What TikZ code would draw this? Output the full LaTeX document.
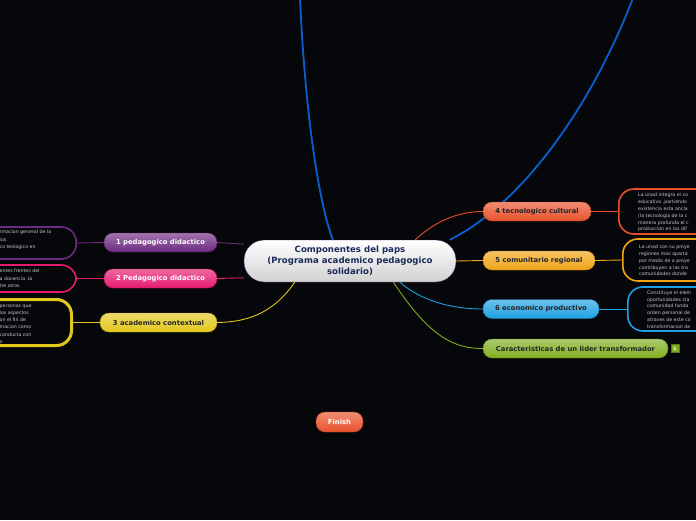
\documentclass[tikz,border=0pt]{standalone}
\usepackage{fontspec}
\setmainfont{DejaVu Sans}
\usetikzlibrary{positioning}
\definecolor{bg}{HTML}{05070A}
\definecolor{cpurp}{HTML}{6E2A82}
\definecolor{cpink}{HTML}{E51A6E}
\definecolor{cyell}{HTML}{E2C81C}
\definecolor{cred}{HTML}{E8502A}
\definecolor{corng}{HTML}{F0A416}
\definecolor{cblue}{HTML}{1EA0E2}
\definecolor{cgreen}{HTML}{7FAE1E}
\definecolor{cline}{HTML}{0A5FD0}
\definecolor{cnavy}{HTML}{1A2A5A}
\tikzset{
  topic/.style   = {draw=#1!75!black, rounded corners=9pt, minimum height=19pt,
                    top color=#1!65!white, bottom color=#1, inner sep=2pt,
                    font=\fontsize{6.8}{7}\selectfont\bfseries},
  note/.style    = {draw=#1, line width=1.6pt, rounded corners=15pt, fill=bg},
  notetxt/.style = {align=left, inner sep=0pt, text=black!22,
                    font=\fontsize{4.7}{6.8}\selectfont},
  link/.style    = {draw=#1, line width=0.9pt},
}
\begin{document}
\begin{tikzpicture}[x=1pt, y=-1pt]
\useasboundingbox (0,0) rectangle (696,520);
\fill[bg] (0,0) rectangle (696,520);
\clip (0,0) rectangle (696,520);

% central topic
\node[draw=cpurp!60!black, rounded corners=20pt, minimum width=212pt, minimum height=42pt,
      top color=white, bottom color=black!18, text=cnavy, align=center,
      font=\fontsize{8.6}{11}\selectfont\bfseries] (cen) at (350,261)
     {Componentes del paps\\(Programa academico pedagogico\\solidario)};

% long blue lines
\coordinate (top1) at (300,-2);
\coordinate (top2) at (633,-2);
\draw[cline, line width=1.8pt] (top1) .. controls (305,110) and (318,200) .. (cen.129);
\draw[cline, line width=1.8pt] (top2) .. controls (590,110) and (520,205) .. (cen.12);

% left branches
\node[topic=cpurp, text=white, minimum width=113pt] (b1) at (160.5,242.5) {1 pedagogico didactico};
\node[topic=cpink, text=white, minimum width=113pt] (b2) at (160.5,278.5) {2 Pedagogico didactico};
\node[topic=cyell, text=black!85, minimum width=117pt] (b3) at (158.5,322.5) {3 academico contextual};

\node[note=cpurp, minimum width=140pt, minimum height=32pt, anchor=east] (n1) at (77,243) {};
\node[notetxt, anchor=west, font=\fontsize{4.7}{7.5}\selectfont] (t1) at (-0.5,240) {rmacion general de la\\ios\\co teologico en};
\node[note=cpink, minimum width=140pt, minimum height=27pt, anchor=east] (n2) at (77,278.5) {};
\node[notetxt, anchor=west, font=\fontsize{4.7}{7.5}\selectfont] (t2) at (-0.5,278.5) {entes frentes del\\a docencia ,la\\tre otros};
\node[note=cyell, line width=3pt, minimum width=140pt, minimum height=46pt, anchor=east] (n3) at (73,322.5) {};
\node[notetxt, anchor=west, font=\fontsize{4.7}{7.2}\selectfont] (t3) at (-0.5,324) {personas que\\ los aspectos\\on el fin de\\macion como\\conducta  con\\o};

\draw[link=cpurp] (cen.171) -- (b1.east);
\draw[link=cpink] (cen.189) -- (b2.east);
\draw[link=cyell] (cen.201) .. controls (272,315) and (245,322) .. (b3.east);
\draw[link=cpurp] (b1.west) -- (n1.east);
\draw[link=cpink] (b2.west) -- (n2.east);
\draw[link=cyell] (b3.west) -- (n3.east);

% right branches
\node[topic=cred, text=black!85, minimum width=108pt] (b4) at (537,211.5) {4 tecnologico cultural};
\node[topic=corng, text=black!85, minimum width=112pt] (b5) at (539,260.5) {5 comunitario regional};
\node[topic=cblue, text=black!85, minimum width=116pt] (b6) at (541,309) {6 economico productivo};
\node[topic=cgreen, text=black!85, minimum width=185pt] (b7) at (575.5,348.5) {Caracteristicas de un lider transformador};
\node[fill=cgreen, draw=cgreen!70!black, minimum size=8pt, inner sep=0pt, text=white,
      font=\fontsize{4.5}{5}\selectfont\bfseries] (badge) at (675,348.5) {1};

\node[note=cred, minimum width=140pt, minimum height=45pt, anchor=west] (n4) at (618,211.5) {};
\node[notetxt, anchor=west] (t4) at (638,212.5) {La unad integra el co\\educativo ,partiendo\\existencia esta ancla\\(la tecnologia de la c\\manera profunda el c\\produccion en los dif};
\node[note=corng, minimum width=140pt, minimum height=42pt, anchor=west] (n5) at (622,260) {};
\node[notetxt, anchor=west] (t5) at (639,260.5) {La unad con su proye\\regiones mas aparta\\por medio de a proye\\contribuyen a las tra\\comunidades donde};
\node[note=cblue, minimum width=140pt, minimum height=44pt, anchor=west] (n6) at (627,309) {};
\node[notetxt, anchor=west] (t6) at (647,309.5) {Constituye el elem\\oportunidades cla\\comunidad funda\\orden personal de\\atraves de este co\\transformacion de};

\draw[link=cred] (cen.18) .. controls (432,224) and (455,211.5) .. (b4.west);
\draw[link=corng] (cen.east) -- (b5.west);
\draw[link=cblue] (cen.-23) .. controls (420,300) and (450,309) .. (b6.west);
\draw[link=cgreen] (cen.-26) .. controls (430,338) and (455,348.5) .. (b7.west);
\draw[link=cred] (b4.east) -- (n4.west);
\draw[link=corng] (b5.east) -- (n5.west);
\draw[link=cblue] (b6.east) -- (n6.west);

% finish
\node[topic=cred, text=white, minimum width=47pt, minimum height=20pt] (fin) at (339.5,422) {Finish};
\end{tikzpicture}
\end{document}
